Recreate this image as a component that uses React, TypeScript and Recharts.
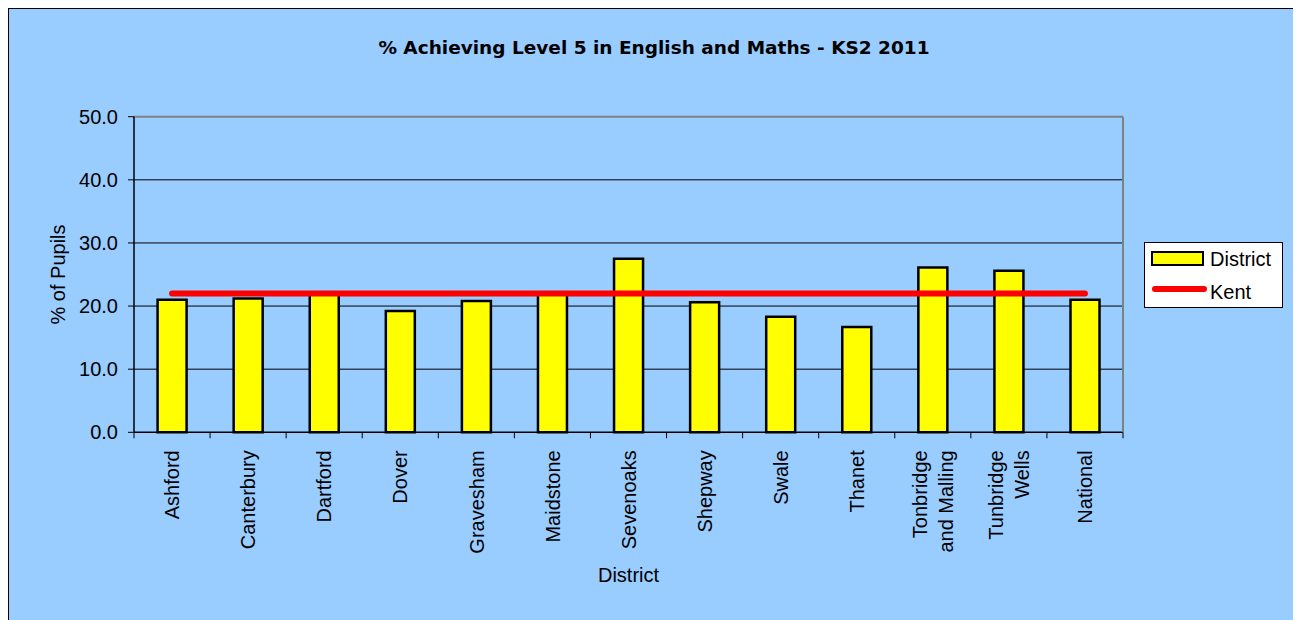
import React from 'react';
import { ComposedChart, Bar, Line, XAxis, YAxis, CartesianGrid, Legend, ReferenceLine } from 'recharts';

const categories = ['Ashford', 'Canterbury', 'Dartford', 'Dover', 'Gravesham', 'Maidstone', 'Sevenoaks', 'Shepway', 'Swale', 'Thanet', 'Tonbridge and Malling', 'Tunbridge Wells', 'National'];
const tickLabels = ['Ashford', 'Canterbury', 'Dartford', 'Dover', 'Gravesham', 'Maidstone', 'Sevenoaks', 'Shepway', 'Swale', 'Thanet', 'Tonbridge\nand Malling', 'Tunbridge\nWells', 'National'];
const districtValues = [21.0, 21.2, 21.9, 19.2, 20.8, 21.8, 27.5, 20.6, 18.3, 16.7, 26.1, 25.6, 21.0];
const kentValues = [22.0, 22.0, 22.0, 22.0, 22.0, 22.0, 22.0, 22.0, 22.0, 22.0, 22.0, 22.0, 22.0];
const yTicks = [0, 10, 20, 30, 40, 50];

const data = categories.map((c, i) => ({ name: c, district: districtValues[i], kent: kentValues[i] }));

const FONT = '"Liberation Sans", Arial, sans-serif';
const TITLE_FONT = '"DejaVu Sans", Verdana, sans-serif';
const FS = 20;

const XTick = (props: any) => {
  const { x, y, index, width } = props;
  const band = (width || 990) / categories.length;
  const lines = tickLabels[index].split('\n');
  const lh = 26;
  return (
    <g>
      <line x1={x - band / 2} y1={y} x2={x - band / 2} y2={y + 6} stroke="#000" strokeWidth={1} />
      {index === categories.length - 1 && (
        <line x1={x + band / 2} y1={y} x2={x + band / 2} y2={y + 6} stroke="#000" strokeWidth={1} />
      )}
      <g transform={`translate(${x},${y + 18})`}>
        <text transform="rotate(-90)" textAnchor="end" fontSize={FS} fontFamily={FONT} fill="#000">
          {lines.map((l: string, i: number) => (
            <tspan key={i} x={0} y={(i - (lines.length - 1) / 2) * lh} dy="0.36em">{l}</tspan>
          ))}
        </text>
      </g>
    </g>
  );
};

const renderLegend = () => (
  <svg width={139} height={66} style={{ display: 'block' }}>
    <rect x={0.5} y={0.5} width={138} height={65} fill="#fff" stroke="#000" strokeWidth={1} />
    <rect x={8} y={10} width={51} height={13} fill="#FFFF00" stroke="#000" strokeWidth={2} />
    <text x={66} y={24} fontSize={FS} fontFamily={FONT} fill="#000">District</text>
    <line x1={11} y1={47} x2={60} y2={47} stroke="#FF0000" strokeWidth={6} strokeLinecap="round" />
    <text x={66} y={57} fontSize={FS} fontFamily={FONT} fill="#000">Kent</text>
  </svg>
);

export default function App() {
  return (
    <div style={{ position: 'relative', width: 1290, height: 620, background: '#99CCFF', borderLeft: '1px solid #000', borderTop: '1px solid #000', borderRight: '1px solid #000' }}>
      <div style={{ position: 'absolute', left: 0, top: 28, width: 1290, textAlign: 'center', fontFamily: TITLE_FONT, fontWeight: 'bold', fontSize: 18.5, color: '#000' }}>
        % Achieving Level 5 in English and Maths - KS2 2011
      </div>
      <ComposedChart width={1290} height={620} data={data} margin={{ top: 107.7, right: 36, bottom: 46.7, left: 65 }} barCategoryGap="31%">
        <CartesianGrid vertical={false} stroke="#000" strokeWidth={1} horizontalValues={[10, 20, 30, 40]} />
        <XAxis dataKey="name" height={150} interval={0} tick={<XTick />} tickLine={false} tickSize={0} tickMargin={0} axisLine={{ stroke: '#000', strokeWidth: 1.5 }}
          label={{ value: 'District', position: 'insideBottom', offset: 0, fontSize: FS, fontFamily: FONT, fill: '#000' }} />
        <YAxis domain={[0, 50]} ticks={yTicks} width={60} tickFormatter={(v: number) => v.toFixed(1)} tickSize={6} tickMargin={10}
          tick={{ fontSize: FS, fontFamily: FONT, fill: '#000' }} tickLine={{ stroke: '#000' }} axisLine={{ stroke: '#000', strokeWidth: 1.5 }}
          label={{ value: '% of Pupils', angle: -90, position: 'insideLeft', offset: -16, fontSize: FS, fontFamily: FONT, fill: '#000', style: { textAnchor: 'middle' } }} />
        <YAxis yAxisId="right" orientation="right" domain={[0, 50]} width={1} tick={false} tickLine={false} axisLine={{ stroke: '#808080', strokeWidth: 2 }} />
        <ReferenceLine y={50} stroke="#808080" strokeWidth={2} />
        <Legend layout="vertical" align="right" verticalAlign="middle" content={renderLegend} wrapperStyle={{ position: 'absolute', left: 1135, top: 233, width: 139, height: 66 }} />
        <Bar dataKey="district" name="District" fill="#FFFF00" stroke="#000" strokeWidth={2.5} isAnimationActive={false} />
        <Line dataKey="kent" name="Kent" type="linear" stroke="#FF0000" strokeWidth={6} strokeLinecap="round" dot={false} activeDot={false} isAnimationActive={false} />
      </ComposedChart>
    </div>
  );
}
